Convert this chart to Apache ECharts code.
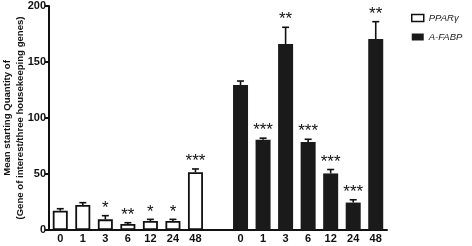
<!DOCTYPE html>
<html><head><meta charset="utf-8">
<script src="https://cdn.jsdelivr.net/npm/echarts@6/dist/echarts.min.js"></script>
<style>html,body{margin:0;padding:0;background:#fff}#c{width:472px;height:246px}</style>
</head><body><div id="c"></div>
<script>
// categories (blank spacer between the two gene groups)
var categories = ['0','1','3','6','12','24','48','','0','1','3','6','12','24','48'];
var yTicks = [0, 50, 100, 150, 200];
var yTitle = 'Mean starting Quantity of\n(Gene of interest/three housekeeping genes)';
// PPARγ (hours 0..48)
var pparMean = [17.2, 22.3, 9.5, 5.4, 8.0, 8.0, 51.5];
var pparErr  = [19.0, 24.4, 12.8, 6.5, 9.5, 9.5, 54.5];
var pparSig  = ['', '', '*', '**', '*', '*', '***'];
// A-FABP (hours 0..48)
var fabpMean = [129.5, 80.5, 166.0, 78.5, 50.5, 24.5, 170.5];
var fabpErr  = [133.0, 82.0, 181.0, 81.0, 54.0, 27.0, 186.0];
var fabpSig  = ['', '***', '**', '***', '***', '***', '**'];

var pparData = [], fabpData = [], errData = [];
for (var i = 0; i < categories.length; i++) { pparData.push('-'); fabpData.push('-'); }
pparMean.forEach(function (v, i) { pparData[i] = v; errData.push([i, v, pparErr[i], pparSig[i]]); });
fabpMean.forEach(function (v, i) { fabpData[i + 8] = v; errData.push([i + 8, v, fabpErr[i], fabpSig[i]]); });

var font = 'Liberation Sans, Arial, Helvetica, sans-serif';
var chart = echarts.init(document.getElementById('c'), null, {renderer: 'canvas'});
chart.setOption({
  animation: false,
  grid: {left: 49, right: 85, top: 6, bottom: 16, containLabel: false, outerBoundsMode: 'none'},
  graphic: [{
    type: 'text', x: 13.5, y: 118, rotation: Math.PI / 2,
    style: {text: yTitle, align: 'center', verticalAlign: 'middle', lineHeight: 13,
      font: 'bold 9.6px ' + font, fill: '#111'}
  }],
  legend: {
    orient: 'vertical', left: 406, top: 8, itemGap: 9,
    itemWidth: 12, itemHeight: 7, icon: 'rect',
    textStyle: {fontFamily: font, fontStyle: 'italic', fontSize: 9.5, color: '#222'},
    data: [
      {name: 'PPARγ', itemStyle: {color: '#fff', borderColor: '#111', borderWidth: 1.5}},
      {name: 'A-FABP', itemStyle: {color: '#1a1a1a'}}
    ]
  },
  xAxis: {
    type: 'category', data: categories,
    axisLine: {lineStyle: {color: '#111', width: 2}},
    axisTick: {show: false},
    axisLabel: {color: '#111', fontFamily: font, fontWeight: 'bold', fontSize: 11, margin: 3, interval: 0}
  },
  yAxis: {
    type: 'value', min: 0, max: 200, interval: 50,
    splitLine: {show: false},
    axisLine: {show: true, lineStyle: {color: '#111', width: 2}},
    axisTick: {show: true, length: 4, lineStyle: {color: '#111', width: 2}},
    axisLabel: {color: '#111', fontFamily: font, fontWeight: 'bold', fontSize: 11, margin: 3}
  },
  series: [
    {
      name: 'PPARγ', type: 'bar', data: pparData, barWidth: 15, barGap: '-100%',
      itemStyle: {color: '#fff', borderColor: '#111', borderWidth: 1.8}
    },
    {
      name: 'A-FABP', type: 'bar', data: fabpData, barWidth: 15, barGap: '-100%',
      itemStyle: {color: '#1a1a1a'}
    },
    {
      type: 'custom', data: errData, z: 10,
      renderItem: function (params, api) {
        var x = api.value(0);
        var base = api.coord([x, api.value(1)]);
        var top = api.coord([x, api.value(2)]);
        var sig = errData[params.dataIndex][3];
        var w = 3.5;
        return {
          type: 'group',
          children: [
            {type: 'line', shape: {x1: base[0], y1: base[1], x2: top[0], y2: top[1]}, style: {stroke: '#111', lineWidth: 1.6}},
            {type: 'line', shape: {x1: top[0] - w, y1: top[1], x2: top[0] + w, y2: top[1]}, style: {stroke: '#111', lineWidth: 1.6}},
            {type: 'text', style: {text: sig, x: top[0], y: top[1] + 1, align: 'center', verticalAlign: 'bottom',
              font: '17px ' + font, fill: '#111'}}
          ]
        };
      }
    }
  ]
});
</script></body></html>
